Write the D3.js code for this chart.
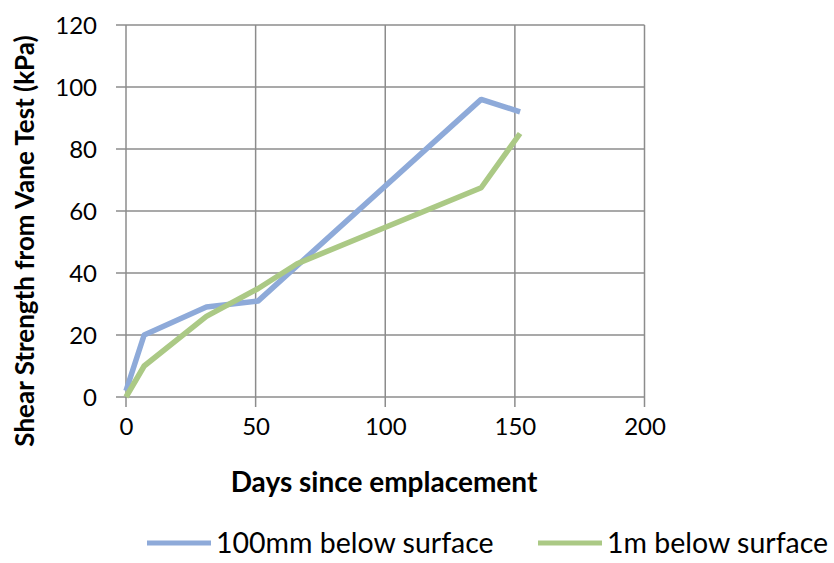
<!DOCTYPE html>
<html>
<head>
<meta charset="utf-8">
<script src="https://cdn.jsdelivr.net/npm/d3@7/dist/d3.min.js"></script>
<style>
  html, body { margin: 0; padding: 0; background: #fff; }
  svg { display: block; }
  text { font-family: Lato, "Open Sans", sans-serif; fill: #000; }
</style>
</head>
<body>
<svg id="chart" width="834" height="563"></svg>
<script>
// Data
const seriesNames = ["100mm below surface", "1m below surface"];
const days100mm = [0, 7, 31, 51, 137, 152];
const shear100mm = [2, 20, 29, 31, 96, 92];
const days1m = [0, 7, 31, 51, 66, 137, 152];
const shear1m = [0, 10, 26, 35, 43, 67.5, 85];
const xTicks = [0, 50, 100, 150, 200];
const yTicks = [0, 20, 40, 60, 80, 100, 120];
const xTitle = "Days since emplacement";
const yTitle = "Shear Strength from Vane Test (kPa)";
const colors = ["#8eaad9", "#abc985"];

const svg = d3.select("#chart");
const x = d3.scaleLinear().domain([0, 200]).range([126, 644.5]);
const y = d3.scaleLinear().domain([0, 120]).range([397, 25]);
const gridColor = "#8c8c8c";

// Horizontal gridlines (with outward ticks)
svg.append("g").selectAll("line").data(yTicks).join("line")
  .attr("x1", x(0) - 10).attr("x2", x(200))
  .attr("y1", d => y(d)).attr("y2", d => y(d))
  .attr("stroke", gridColor).attr("stroke-width", 1.5);
// Vertical gridlines (with outward ticks)
svg.append("g").selectAll("line").data(xTicks).join("line")
  .attr("x1", d => x(d)).attr("x2", d => x(d))
  .attr("y1", y(120)).attr("y2", y(0) + 10)
  .attr("stroke", gridColor).attr("stroke-width", 1.5);

// Axis labels via d3 axes
const yAxis = svg.append("g").attr("transform", `translate(${x(0)},0)`)
  .call(d3.axisLeft(y).tickValues(yTicks).tickSize(0).tickPadding(29));
yAxis.select(".domain").remove();
yAxis.selectAll("text").style("font-size", "24px").attr("dy", "0.36em");

const xAxis = svg.append("g").attr("transform", `translate(0,${y(0)})`)
  .call(d3.axisBottom(x).tickValues(xTicks).tickSize(0).tickPadding(29));
xAxis.select(".domain").remove();
xAxis.selectAll("text").style("font-size", "24px").attr("dy", "0.36em");

// Series lines
const line = d3.line().x(d => x(d[0])).y(d => y(d[1]));
const series = [
  d3.zip(days100mm, shear100mm),
  d3.zip(days1m, shear1m)
];
series.forEach((s, i) => {
  svg.append("path").datum(s)
    .attr("d", line)
    .attr("fill", "none")
    .attr("stroke", colors[i])
    .attr("stroke-width", 5.5)
    .attr("stroke-linejoin", "round");
});

// Titles
svg.append("text")
  .attr("x", 384).attr("y", 492)
  .attr("text-anchor", "middle")
  .style("font-size", "28px").style("font-weight", "bold")
  .text(xTitle);

svg.append("text")
  .attr("transform", "translate(34,241) rotate(-90)")
  .attr("text-anchor", "middle")
  .style("font-size", "26px").style("font-weight", "bold")
  .text(yTitle);

// Legend
const legendX = [147, 538];
seriesNames.forEach((name, i) => {
  const g = svg.append("g").attr("transform", `translate(${legendX[i]},543)`);
  g.append("line").attr("x1", 0).attr("x2", 64).attr("y1", 0).attr("y2", 0)
    .attr("stroke", colors[i]).attr("stroke-width", 5);
  g.append("text").attr("x", 69).attr("y", 0).attr("dy", "0.36em")
    .style("font-size", "28.5px").text(name);
});
</script>
</body>
</html>
